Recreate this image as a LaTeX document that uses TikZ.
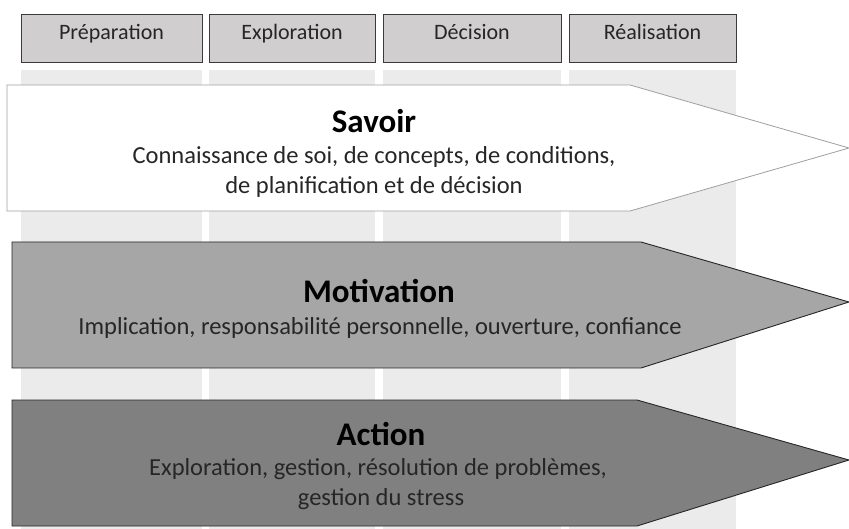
\documentclass[tikz,border=0pt]{standalone}
\usepackage{fontspec}
\setmainfont{Carlito}
\definecolor{hdrfill}{HTML}{D0CECE}
\definecolor{hdrline}{HTML}{3A3A3A}
\definecolor{colfill}{HTML}{EBEBEB}
\definecolor{txt}{HTML}{262626}
\definecolor{motfill}{HTML}{A6A6A6}
\definecolor{actfill}{HTML}{808080}
\begin{document}
\begin{tikzpicture}[x=1pt,y=-1pt,
  hdrbox/.style={draw=hdrline,fill=hdrfill,line width=0.9pt},
  hdrtxt/.style={anchor=base,inner sep=0pt,text=txt,font=\fontsize{22}{26}\selectfont},
  colbg/.style={fill=colfill,draw=none},
  ttl/.style={anchor=base,inner sep=0pt,font=\bfseries\fontsize{33}{38}\selectfont,text=black},
  sub/.style={anchor=base,inner sep=0pt,font=\fontsize{24.5}{29}\selectfont,text=txt}]
\useasboundingbox (0,0) rectangle (849,529);
% columns
\fill[colbg] (21,70) rectangle (202,529);
\fill[colbg] (209,70) rectangle (375,529);
\fill[colbg] (383,70) rectangle (561,529);
\fill[colbg] (569,70) rectangle (736,529);
% headers
\draw[hdrbox] (21,14) rectangle (202,62);
\draw[hdrbox] (209,14) rectangle (375,62);
\draw[hdrbox] (383,14) rectangle (561,62);
\draw[hdrbox] (569,14) rectangle (736,62);
\node[hdrtxt] (h1) at (111.5,40) {Préparation};
\node[hdrtxt] (h2) at (292,40) {Exploration};
\node[hdrtxt] (h3) at (472,40) {Décision};
\node[hdrtxt] (h4) at (652.5,40) {Réalisation};
% arrows
\draw[fill=white,draw=gray!75,line width=0.8pt] (7,85) -- (630,85) -- (849,148) -- (630,211) -- (7,211) -- cycle;
\draw[fill=motfill,draw=black!85,line width=0.9pt] (12,242) -- (641,242) -- (849,302) -- (641,368) -- (12,368) -- cycle;
\draw[fill=actfill,draw=black!85,line width=0.9pt] (12,400) -- (637,400) -- (849,460) -- (637,526) -- (12,526) -- cycle;
% texts
\node[ttl] (t1) at (374,133) {Savoir};
\node[sub] (s1a) at (374,164) {Connaissance de soi, de concepts, de conditions,};
\node[sub] (s1b) at (374,194) {de planification et de décision};
\node[ttl] (t2) at (379,303) {Motivation};
\node[sub] (s2) at (380,335) {Implication, responsabilité personnelle, ouverture, confiance};
\node[ttl] (t3) at (381,445) {Action};
\node[sub] (s3a) at (378,475) {Exploration, gestion, résolution de problèmes,};
\node[sub] (s3b) at (381,505) {gestion du stress};
\end{tikzpicture}
\end{document}
